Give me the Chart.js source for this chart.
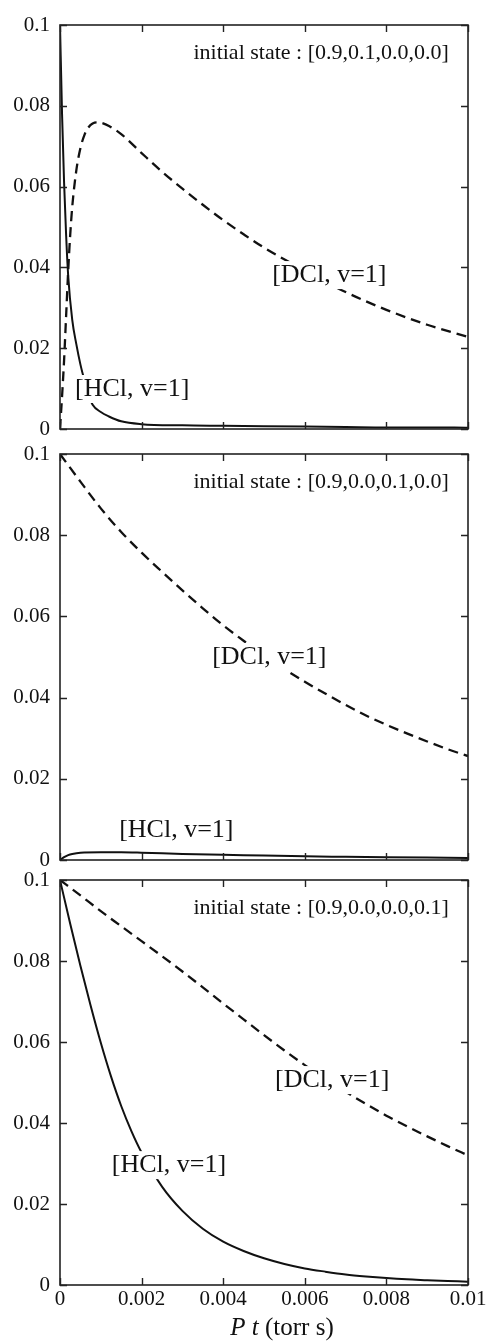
<!DOCTYPE html>
<html>
<head>
<meta charset="utf-8">
<script src="https://cdn.jsdelivr.net/npm/chart.js@4.4.1/dist/chart.umd.min.js"></script>
<style>
  html, body { margin: 0; padding: 0; background: #fff; }
  #wrap { position: relative; width: 489px; height: 1341px; }
  canvas { position: absolute; left: 0; top: 0; }
</style>
</head>
<body>
<div id="wrap">
  <canvas id="c1" width="489" height="1341"></canvas>
  <canvas id="c2" width="489" height="1341"></canvas>
  <canvas id="c3" width="489" height="1341"></canvas>
</div>
<script>
const FONT = "'Liberation Serif', 'Times New Roman', serif";
const INK = "#111";

const xTickVals = [0, 0.002, 0.004, 0.006, 0.008, 0.01];
const xTickLabels = ["0", "0.002", "0.004", "0.006", "0.008", "0.01"];
const yTickVals = [0, 0.02, 0.04, 0.06, 0.08, 0.1];
const yTickLabels = ["0", "0.02", "0.04", "0.06", "0.08", "0.1"];

// panel 1 : initial state [0.9,0.1,0.0,0.0]
const p1HclT = [0, 0.00005, 0.0001, 0.00015, 0.0002, 0.0003, 0.0004, 0.0005, 0.0006, 0.0007, 0.0008, 0.001, 0.0012, 0.0015, 0.002, 0.003, 0.004, 0.005, 0.006, 0.007, 0.008, 0.009, 0.01];
const p1Hcl = [0.1, 0.078, 0.061, 0.048, 0.038, 0.027, 0.021, 0.016, 0.012, 0.0085, 0.006, 0.0042, 0.0031, 0.0019, 0.0012, 0.0009, 0.0008, 0.0007, 0.0006, 0.0005, 0.0004, 0.0004, 0.0003];
const p1DclT = [0, 0.00005, 0.0001, 0.00015, 0.0002, 0.00025, 0.0003, 0.0004, 0.0005, 0.0006, 0.0007, 0.0008, 0.0009, 0.001, 0.0012, 0.0015, 0.002, 0.0025, 0.003, 0.0035, 0.004, 0.0045, 0.005, 0.006, 0.007, 0.008, 0.009, 0.01];
const p1Dcl = [0, 0.008, 0.017, 0.028, 0.039, 0.048, 0.055, 0.064, 0.0695, 0.0728, 0.0747, 0.0756, 0.0759, 0.0758, 0.075, 0.073, 0.0683, 0.0637, 0.0595, 0.0555, 0.0517, 0.0482, 0.0449, 0.0392, 0.0339, 0.0295, 0.0258, 0.0228];

// panel 2 : initial state [0.9,0.0,0.1,0.0]
const p2HclT = [0, 0.0001, 0.0002, 0.0003, 0.0005, 0.001, 0.0015, 0.002, 0.003, 0.004, 0.005, 0.006, 0.007, 0.008, 0.009, 0.01];
const p2Hcl = [0, 0.0007, 0.0012, 0.0015, 0.0018, 0.0019, 0.0019, 0.0018, 0.0015, 0.0013, 0.0011, 0.0009, 0.0008, 0.0007, 0.0006, 0.0005];
const p2DclT = [0, 0.0005, 0.001, 0.0015, 0.002, 0.0025, 0.003, 0.0035, 0.004, 0.0045, 0.005, 0.0055, 0.006, 0.0065, 0.007, 0.0075, 0.008, 0.0085, 0.009, 0.0095, 0.01];
const p2Dcl = [0.1, 0.0932, 0.0866, 0.0808, 0.0757, 0.071, 0.0664, 0.062, 0.0578, 0.054, 0.0503, 0.047, 0.0439, 0.041, 0.0382, 0.0356, 0.0333, 0.0312, 0.0292, 0.0273, 0.0256];

// panel 3 : initial state [0.9,0.0,0.0,0.1]
const p3HclT = [0, 0.00025, 0.0005, 0.00075, 0.001, 0.00125, 0.0015, 0.00175, 0.002, 0.0025, 0.003, 0.0035, 0.004, 0.0045, 0.005, 0.0055, 0.006, 0.0065, 0.007, 0.0075, 0.008, 0.0085, 0.009, 0.0095, 0.01];
const p3Hcl = [0.1, 0.0892, 0.0788, 0.069, 0.0598, 0.0515, 0.0442, 0.038, 0.0327, 0.0243, 0.0183, 0.0139, 0.0107, 0.0084, 0.0066, 0.0052, 0.0041, 0.0033, 0.0026, 0.0021, 0.0017, 0.0014, 0.0012, 0.001, 0.0008];
const p3DclT = [0, 0.0005, 0.001, 0.0015, 0.002, 0.0025, 0.003, 0.0035, 0.004, 0.0045, 0.005, 0.0055, 0.006, 0.0065, 0.007, 0.0075, 0.008, 0.0085, 0.009, 0.0095, 0.01];
const p3Dcl = [0.1, 0.0962, 0.0923, 0.0886, 0.0849, 0.0812, 0.0774, 0.0735, 0.0695, 0.0656, 0.0617, 0.0579, 0.0543, 0.0509, 0.0477, 0.0447, 0.0418, 0.0392, 0.0367, 0.0343, 0.032];

const states = ["initial state : [0.9,0.1,0.0,0.0]", "initial state : [0.9,0.0,0.1,0.0]", "initial state : [0.9,0.0,0.0,0.1]"];

const toXY = (ts, vs) => ts.map((t, i) => ({ x: t, y: vs[i] }));

const panels = [
  { id: "c1", top: 25, bottom: 429, hcl: toXY(p1HclT, p1Hcl), dcl: toXY(p1DclT, p1Dcl), state: states[0], xLabels: false,
    hclAt: [0.00037, 0.0099], dclAt: [0.0052, 0.0381] },
  { id: "c2", top: 454, bottom: 860, hcl: toXY(p2HclT, p2Hcl), dcl: toXY(p2DclT, p2Dcl), state: states[1], xLabels: false,
    hclAt: [0.00145, 0.0074], dclAt: [0.00373, 0.05] },
  { id: "c3", top: 880, bottom: 1285, hcl: toXY(p3HclT, p3Hcl), dcl: toXY(p3DclT, p3Dcl), state: states[2], xLabels: true,
    hclAt: [0.00127, 0.0296], dclAt: [0.00527, 0.0506] },
];

const X_AXIS_H = 30;

function framePlugin(p) {
  return {
    id: "frame",
    afterDatasetsDraw(chart) {
      const { ctx, chartArea: { left, right, top, bottom }, scales: { x, y } } = chart;
      ctx.save();

      // curve labels, white box behind so the lines break around them
      ctx.font = "26px " + FONT;
      ctx.textBaseline = "middle";
      ctx.textAlign = "left";
      [["[HCl, v=1]", p.hclAt], ["[DCl, v=1]", p.dclAt]].forEach(([txt, at]) => {
        const px = x.getPixelForValue(at[0]), py = y.getPixelForValue(at[1]);
        const w = ctx.measureText(txt).width;
        ctx.fillStyle = "#fff";
        ctx.fillRect(px - 3, py - 14, w + 6, 28);
        ctx.fillStyle = INK;
        ctx.fillText(txt, px, py);
      });

      // initial state text
      ctx.font = "22px " + FONT;
      ctx.textAlign = "right";
      ctx.fillText(p.state, x.getPixelForValue(0.00953), top + 28);

      // box
      ctx.strokeStyle = "#222";
      ctx.lineWidth = 1.6;
      ctx.strokeRect(left, top, right - left, bottom - top);

      // inward ticks on all four sides
      const tl = 7;
      ctx.beginPath();
      xTickVals.forEach(v => {
        const px = Math.round(x.getPixelForValue(v)) + 0.5;
        ctx.moveTo(px, bottom); ctx.lineTo(px, bottom - tl);
        ctx.moveTo(px, top); ctx.lineTo(px, top + tl);
      });
      yTickVals.forEach(v => {
        const py = Math.round(y.getPixelForValue(v)) + 0.5;
        ctx.moveTo(left, py); ctx.lineTo(left + tl, py);
        ctx.moveTo(right, py); ctx.lineTo(right - tl, py);
      });
      ctx.lineWidth = 1.4;
      ctx.stroke();

      // x axis title, bottom panel only
      if (p.xLabels) {
        const a = "P t", b = " (torr s)";
        ctx.textAlign = "left";
        ctx.textBaseline = "alphabetic";
        ctx.font = "italic 25px " + FONT;
        const wa = ctx.measureText(a).width;
        ctx.font = "25px " + FONT;
        const wb = ctx.measureText(b).width;
        const cx = (left + right) / 2 + 18;
        const x0 = cx - (wa + wb) / 2;
        ctx.font = "italic 25px " + FONT;
        ctx.fillText(a, x0, 1335);
        ctx.font = "25px " + FONT;
        ctx.fillText(b, x0 + wa, 1335);
      }
      ctx.restore();
    }
  };
}

panels.forEach(p => {
  const axisH = p.xLabels ? X_AXIS_H : 0;
  new Chart(document.getElementById(p.id).getContext("2d"), {
    type: "line",
    data: {
      datasets: [
        {
          label: "[HCl, v=1]",
          data: p.hcl,
          borderColor: INK,
          borderWidth: 2,
          pointRadius: 0,
          fill: false,
          cubicInterpolationMode: "monotone",
        },
        {
          label: "[DCl, v=1]",
          data: p.dcl,
          borderColor: INK,
          borderWidth: 2.3,
          borderDash: [10, 6],
          pointRadius: 0,
          fill: false,
          cubicInterpolationMode: "monotone",
        },
      ],
    },
    options: {
      responsive: false,
      animation: false,
      events: [],
      layout: { padding: { left: 0, right: 21, top: p.top, bottom: 1341 - p.bottom - axisH } },
      plugins: { legend: { display: false }, tooltip: { enabled: false } },
      scales: {
        x: {
          type: "linear",
          min: 0,
          max: 0.01,
          grid: { display: false, drawTicks: false },
          border: { display: false },
          afterFit: s => { s.height = axisH; },
          afterBuildTicks: s => { s.ticks = xTickVals.map(v => ({ value: v })); },
          ticks: {
            display: p.xLabels,
            padding: 2,
            maxRotation: 0,
            autoSkip: false,
            color: INK,
            font: { family: FONT, size: 21 },
            callback: v => xTickLabels[xTickVals.indexOf(v)],
          },
        },
        y: {
          type: "linear",
          min: 0,
          max: 0.1,
          grid: { display: false, drawTicks: false },
          border: { display: false },
          afterFit: s => { s.width = 60; },
          afterBuildTicks: s => { s.ticks = yTickVals.map(v => ({ value: v })); },
          ticks: {
            padding: 10,
            autoSkip: false,
            color: INK,
            font: { family: FONT, size: 21 },
            callback: v => yTickLabels[yTickVals.indexOf(v)],
          },
        },
      },
    },
    plugins: [framePlugin(p)],
  });
});
</script>
</body>
</html>
